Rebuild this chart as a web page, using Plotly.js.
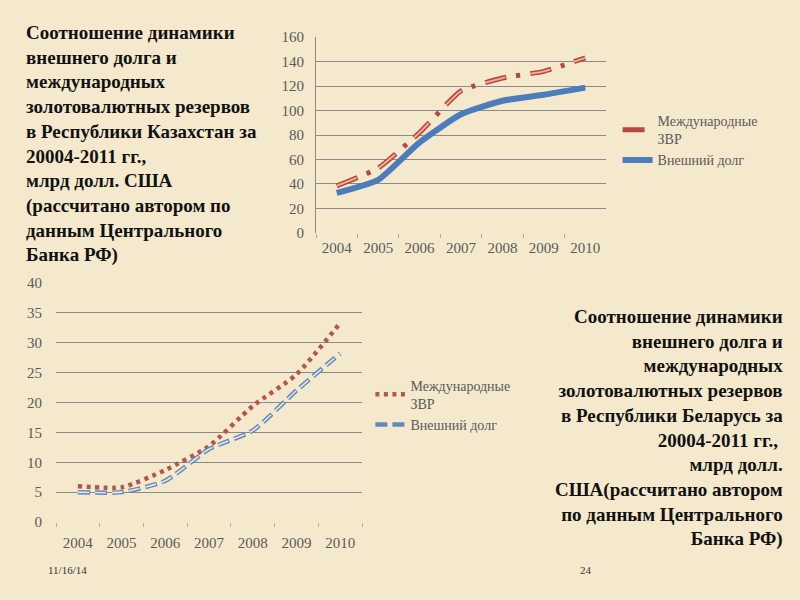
<!DOCTYPE html>
<html><head><meta charset="utf-8">
<script src="https://cdn.plot.ly/plotly-3.0.1.min.js"></script>
<style>html,body{margin:0;padding:0;background:#f4e9cc;} #chart{width:800px;height:600px;}</style>
</head><body><div id="chart"></div>
<script>
// Categories
const years = ['2004','2005','2006','2007','2008','2009','2010'];
// Kazakhstan, bn USD
const kzReserves = [38.5, 53, 82, 116, 126.5, 132, 143];
const kzDebt = [32.7, 43.4, 74.0, 96.9, 108.0, 112.9, 118.7];
// Belarus, bn USD
const byReserves = [6.0, 5.8, 8.7, 12.7, 19.4, 24.7, 33.3];
const byDebt = [5.0, 5.0, 6.9, 12.2, 15.3, 22.0, 28.2];
const seriesNames = ['Международные<br>ЗВР', 'Внешний долг'];

const textKz = 'Соотношение динамики<br>внешнего долга и<br>международных<br>золотовалютных резервов<br>в Республики Казахстан за<br>20004-2011 гг.,<br>млрд долл. США<br>(рассчитано автором по<br>данным Центрального<br>Банка РФ)';
const textBy = 'Соотношение динамики<br>внешнего долга и<br>международных<br>золотовалютных резервов<br>в Республики Беларусь за<br>20004-2011 гг., <br>млрд долл.<br>США(рассчитано автором<br>по данным Центрального<br>Банка РФ)';
const footDate = '11/16/14';
const footPage = '24';

const serif = 'Liberation Serif';
const tickFont = {family: serif, size: 15, color: '#5a5a5a'};
const blockFont = {family: serif, size: 19, color: '#111', weight: 700};

const traces = [
  // Kazakhstan
  {x: years, y: kzReserves, xaxis: 'x', yaxis: 'y', name: seriesNames[0], legend: 'legend', mode: 'lines',
   line: {color: '#b9473f', width: 5, dash: '22px,10px,4px,10px', shape: 'spline', smoothing: 0.5}},
  {x: years, y: kzReserves, xaxis: 'x', yaxis: 'y', showlegend: false, mode: 'lines', hoverinfo: 'skip',
   line: {color: '#eeb29a', width: 1.8, dash: '21px,25px', shape: 'spline', smoothing: 0.5}},
  {x: years, y: kzDebt, xaxis: 'x', yaxis: 'y', name: seriesNames[1], legend: 'legend', mode: 'lines',
   line: {color: '#4a7dba', width: 6, shape: 'spline', smoothing: 0.5}},
  // Belarus
  {x: years, y: byReserves, xaxis: 'x2', yaxis: 'y2', name: seriesNames[0], legend: 'legend2', mode: 'lines',
   line: {color: '#b3564b', width: 4.5, dash: '4px,4.5px', shape: 'spline', smoothing: 0.6}},
  {x: years, y: byDebt, xaxis: 'x2', yaxis: 'y2', name: seriesNames[1], legend: 'legend2', mode: 'lines',
   line: {color: '#6189bb', width: 4.5, dash: '12px,5px', shape: 'spline', smoothing: 0.6}},
  {x: years, y: byDebt, xaxis: 'x2', yaxis: 'y2', showlegend: false, mode: 'lines', hoverinfo: 'skip',
   line: {color: '#ebe7dd', width: 1.6, dash: '11px,6px', shape: 'spline', smoothing: 0.6}}
];

const legendFont = {family: serif, size: 14, color: '#5a5a5a'};
const layout = {
  width: 800, height: 600,
  margin: {l: 0, r: 0, t: 0, b: 0},
  paper_bgcolor: '#f4e9cc', plot_bgcolor: 'rgba(0,0,0,0)',
  showlegend: true,
  xaxis: {domain: [0.395, 0.7575], anchor: 'y', type: 'category', range: [-0.5, 6.5],
    showgrid: false, showline: false, zeroline: false, ticks: 'outside', tickson: 'boundaries',
    ticklen: 4, tickcolor: '#a8a8a8', tickfont: tickFont, ticklabelstandoff: 4},
  yaxis: {domain: [0.6117, 0.9383], anchor: 'x', range: [0, 160], dtick: 20,
    showgrid: true, gridcolor: '#8a8a8a', gridwidth: 1, showline: true, linecolor: '#8a8a8a',
    zeroline: true, zerolinecolor: 'rgba(0,0,0,0)', ticks: 'outside', ticklen: 8,
    tickcolor: 'rgba(0,0,0,0)', tickfont: tickFont},
  xaxis2: {domain: [0.07, 0.4525], anchor: 'y2', type: 'category', range: [-0.5, 6.5],
    showgrid: false, showline: false, zeroline: false, ticks: 'outside', tickson: 'boundaries',
    ticklen: 4, tickcolor: '#b0b0b0', tickfont: tickFont, ticklabelstandoff: 10},
  yaxis2: {domain: [0.13, 0.5283], anchor: 'x2', range: [0, 40], dtick: 5,
    showgrid: true, gridcolor: '#8a8a8a', gridwidth: 1, showline: false,
    zeroline: true, zerolinecolor: 'rgba(0,0,0,0)', ticks: 'outside', ticklen: 10,
    tickcolor: 'rgba(0,0,0,0)', tickfont: tickFont},
  legend: {x: 0.772, y: 0.825, xanchor: 'left', yanchor: 'top', bgcolor: 'rgba(0,0,0,0)',
    font: legendFont, itemwidth: 30, tracegroupgap: 0},
  legend2: {x: 0.463, y: 0.384, xanchor: 'left', yanchor: 'top', bgcolor: 'rgba(0,0,0,0)',
    font: legendFont, itemwidth: 30, tracegroupgap: 0},
  annotations: [
    {text: textKz, xref: 'paper', yref: 'paper', x: 24/800, y: 1 - 20/600, xanchor: 'left', yanchor: 'top',
     align: 'left', showarrow: false, font: blockFont},
    {text: textBy, xref: 'paper', yref: 'paper', x: 785/800, y: 1 - 304/600, xanchor: 'right', yanchor: 'top',
     align: 'right', showarrow: false, font: blockFont},
    {text: footDate, xref: 'paper', yref: 'paper', x: 46/800, y: 1 - 570/600, xanchor: 'left', yanchor: 'middle',
     showarrow: false, font: {family: 'Liberation Sans Narrow', size: 11, color: '#333'}},
    {text: footPage, xref: 'paper', yref: 'paper', x: 586/800, y: 1 - 570/600, xanchor: 'center', yanchor: 'middle',
     showarrow: false, font: {family: 'Liberation Sans Narrow', size: 11, color: '#333'}}
  ]
};

Plotly.newPlot('chart', traces, layout, {displayModeBar: false, staticPlot: true});
</script>
</body></html>
